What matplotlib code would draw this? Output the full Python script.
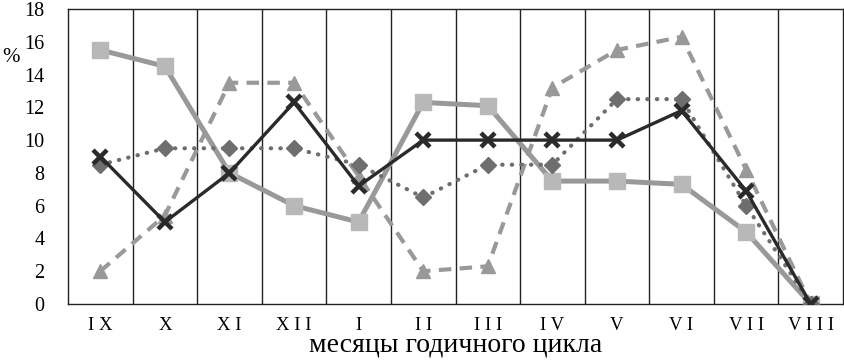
import matplotlib
matplotlib.use("Agg")
import matplotlib.pyplot as plt
import numpy as np

months = ["IX", "X", "XI", "XII", "I", "II", "III", "IV", "V", "VI", "VII", "VIII"]
series_square = [15.5, 14.5, 8.0, 6.0, 5.0, 12.3, 12.1, 7.5, 7.5, 7.3, 4.4, 0.0]
series_triangle = [2.0, 5.4, 13.5, 13.5, 7.8, 2.0, 2.3, 13.2, 15.5, 16.3, 8.2, 0.0]
series_diamond = [8.5, 9.5, 9.5, 9.5, 8.5, 6.5, 8.5, 8.5, 12.5, 12.5, 6.0, 0.0]
series_cross = [9.0, 5.0, 8.0, 12.3, 7.2, 10.0, 10.0, 10.0, 10.0, 11.8, 6.9, 0.0]
yticks = [0, 2, 4, 6, 8, 10, 12, 14, 16, 18]

plt.rcParams['font.family'] = ['Liberation Serif', 'DejaVu Serif']

fig = plt.figure(figsize=(8.44, 3.6), dpi=100)
ax = fig.add_axes([68/844, 56/360, 775/844, 295/360])

x = np.arange(len(months))

ax.plot(x, series_square, color='#999999', lw=3.6, marker='s', ms=11,
        mfc='#b8b8b8', mec='#b8b8b8', zorder=3)
ax.plot(x, series_triangle, color='#999999', lw=3.0, ls=(0, (3, 2)), marker='^', ms=10,
        mfc='#999999', mec='#999999', zorder=4)
ax.plot(x, series_diamond, color='#6e6e6e', lw=3.0, ls=(0, (0.1, 2.2)), dash_capstyle='round',
        marker='D', ms=8.5, mfc='#6e6e6e', mec='#6e6e6e', zorder=5)
ax.plot(x, series_cross, color='#2a2a2a', lw=2.4, marker='x', ms=10, mew=3.2,
        mec='#2a2a2a', zorder=6)

ax.set_xlim(-0.5, len(months) - 0.5)
ax.set_ylim(0, 18)
ax.set_yticks(yticks)
ax.set_yticklabels([str(v) for v in yticks], fontsize=14.5)
ax.set_xticks(x)
ax.set_xticklabels([' '.join(m) for m in months], fontsize=13.5)
ax.set_xticks(np.arange(0.5, len(months) - 0.5, 1), minor=True)
ax.grid(axis='x', which='minor', color='#222222', lw=1.0)
ax.tick_params(axis='both', which='both', length=0)
ax.tick_params(axis='y', pad=17)
ax.tick_params(axis='x', pad=9)
for s in ax.spines.values():
    s.set_color('#222222')
    s.set_linewidth(1.0)

ax.set_xlabel('месяцы годичного цикла', fontsize=20)
ax.xaxis.set_label_coords(0.5, -0.098)
fig.text(11/844, 1 - 57/360, '%', fontsize=15, ha='center', va='center')

fig.savefig('out.png', dpi=100)
